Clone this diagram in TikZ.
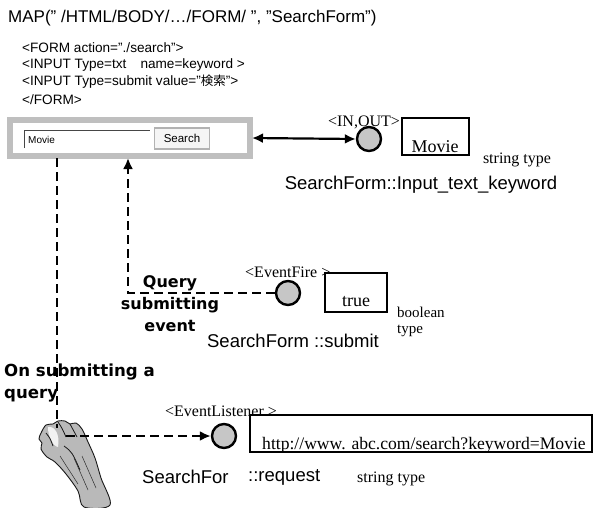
\documentclass[tikz,border=0pt]{standalone}
\usepackage{fontspec}
\setmainfont{Liberation Serif}
\setsansfont{Liberation Sans}
\newfontfamily\cjk{Noto Sans CJK JP}
\newfontfamily\boldsans{DejaVu Sans}
\usetikzlibrary{arrows.meta}

\begin{document}
\begin{tikzpicture}[x=1pt,y=-1pt,
    port/.style={circle, draw, line width=2.4pt, fill=gray!45, minimum size=24pt, inner sep=0pt},
    valbox/.style={draw, line width=2.2pt, fill=white, inner sep=0pt},
    flow/.style={line width=2.2pt, dash pattern=on 9pt off 5pt},
    tip/.style={-{Latex[length=11pt,width=10pt]}},
    serifsm/.style={font=\fontsize{16}{16}\selectfont, inner sep=0pt},
    serifval/.style={font=\fontsize{18}{18}\selectfont, inner sep=0pt},
    sanslbl/.style={font=\sffamily\fontsize{18.5}{18.5}\selectfont, inner sep=0pt},
    htmlline/.style={anchor=west, font=\sffamily\fontsize{13.6}{13.6}\selectfont, inner sep=0pt},
    eventlbl/.style={font=\boldsans\bfseries\fontsize{16}{22}\selectfont, inner sep=0pt}]
\useasboundingbox (0,0) rectangle (600,507);

% mapping call and form source
\node[anchor=west, font=\sffamily\fontsize{17}{17}\selectfont, inner sep=0pt] (map) at (8,18)
    {MAP(" /HTML/BODY/…/FORM/ ", "SearchForm")};
\node[htmlline] (h1) at (22,48) {<FORM action="./search">};
\node[htmlline] (h2) at (22,65) {<INPUT Type=txt\hspace{14pt}name=keyword >};
\node[htmlline] (h3) at (22,82) {<INPUT Type=submit value="{\cjk\fontsize{12.5}{12.5}\selectfont 検索}">};
\node[htmlline] (h4) at (22,100) {</FORM>};

% rendered form
\node[draw=gray!50, line width=5pt, fill=white, minimum width=239pt, minimum height=35pt, inner sep=0pt] (form) at (130,138) {};
\draw[gray!50, line width=0.6pt] (7.5,117.5) rectangle (252.5,158.5);
\draw[gray!55!black, line width=0.8pt] (24,148) |- (150,130);
\node[anchor=west, font=\sffamily\fontsize{10}{10}\selectfont, inner sep=0pt] (kw) at (28,140) {Movie};
\node[draw=gray!60, line width=1.2pt, fill=gray!8, minimum width=55pt, minimum height=21pt,
    font=\sffamily\fontsize{11.5}{11.5}\selectfont, inner sep=0pt] (btn) at (182,138.5) {Search};

% input/output port
\node[port] (io) at (369,139) {};
\node[serifsm] (iotag) at (364,122) {<IN,OUT>};
\node[valbox, minimum width=67pt, minimum height=37pt] (kwval) at (435.5,136.5) {};
\node[serifval] (kwtxt) at (435,147) {Movie};
\node[serifsm] (kwtype) at (517,160) {string type};
\node[sanslbl] (kwname) at (421,185) {SearchForm::Input\_text\_keyword};
\draw[line width=2.2pt, {Latex[length=11pt,width=10pt]}-{Latex[length=11pt,width=10pt]}] (form.east) -- (io.west);

% submit event
\node[port] (fire) at (288,293) {};
\node[serifsm, anchor=west] (firetag) at (245,272) {<EventFire >};
\node[valbox, minimum width=62pt, minimum height=39pt] (sval) at (356,292.5) {};
\node[serifval] (stxt) at (356,302) {true};
\node[serifsm, anchor=west, font=\fontsize{15}{15}\selectfont] (stype1) at (397,312) {boolean};
\node[serifsm, anchor=west, font=\fontsize{15}{15}\selectfont] (stype2) at (397,331) {type};
\node[sanslbl] (sname) at (293,341) {SearchForm ::submit};
\node[eventlbl, align=center] (qevt) at (170,304) {Query\\submitting\\event};

% request listener
\node[port] (listen) at (224,436) {};
\node[serifsm] (listag) at (221,411) {<EventListener >};
\node[valbox, minimum width=342pt, minimum height=37pt] (url) at (421,433.5) {};
\node[serifval, anchor=base west, font=\fontsize{17.6}{17.6}\selectfont] (urltxt) at (262,449) {http://www. abc.com/search?keyword=Movie};
\node[sanslbl, anchor=west] (rname1) at (142,477) {SearchFor};
\node[sanslbl, anchor=west] (rname2) at (248,477) {::request};
\node[serifsm, anchor=west] (rtype) at (357,479) {string type};
\node[eventlbl, align=left, anchor=west, font=\boldsans\bfseries\fontsize{16.6}{22}\selectfont] (onq) at (4,383) {On submitting a\\query};

% hand pressing the button
\draw[gray!20!black, line width=0.9pt, fill=gray!55]
    plot[smooth cycle, tension=0.55] coordinates {(41,433) (46,425) (53,424) (58,421) (65,421) (70,424)
    (76,423) (82,429) (88,442) (95,458) (101,478) (110,505) (84,507) (78,491) (66,474) (55,462)
    (47,457) (41,449) (42,443) (39,439)};
\fill[gray!10] (48,427) .. controls (55,426) and (60,434) .. (58,447) .. controls (53,446) and (48,437) .. (48,427);
\draw[gray!20!black, line width=0.8pt]
    (46,433) .. controls (50,438) .. (53,446)
    (58,422) .. controls (62,428) .. (66,437)
    (70,424) .. controls (73,431) .. (77,437)
    (64,446) .. controls (72,452) .. (80,470);
\draw[gray!35!black, line width=0.5pt]
    (74,458) -- (88,490) (82,456) -- (96,488) (60,456) -- (78,484);

% control flow
\coordinate (tap) at (57,428);
\coordinate (press) at (66,436);
\coordinate (back) at (128,0);
\draw[flow] (form.south -| tap) -- (tap);
\draw[flow, tip] (press) -- (listen.west);
\draw[flow, tip] (fire.west) -| (form.south -| back);
\end{tikzpicture}
\end{document}
